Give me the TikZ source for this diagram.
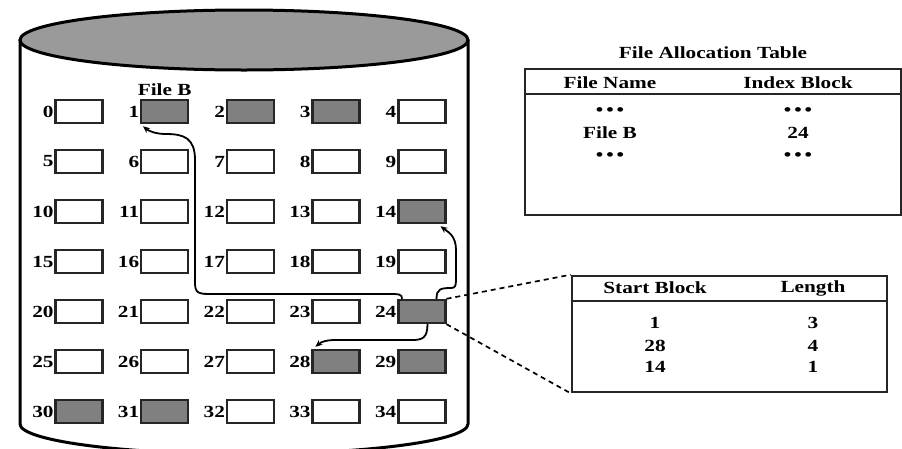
\documentclass[tikz,border=0pt]{standalone}
\usepackage{fontspec}
\setmainfont{Liberation Serif}[FakeStretch=1.25]
\usetikzlibrary{arrows.meta}
\definecolor{dk}{HTML}{808080}
\definecolor{topgray}{HTML}{9A9A9A}
\definecolor{edge}{HTML}{262626}
\begin{document}
\begin{tikzpicture}[x=1pt,y=-1pt,
  blk/.style={draw=edge,line width=2.4pt,minimum width=47pt,minimum height=23pt,inner sep=0pt},
  num/.style={font=\fontsize{17}{19}\selectfont\bfseries,inner sep=0.6pt},
  txt/.style={font=\fontsize{17}{19}\selectfont\bfseries,inner sep=0pt},
  dots/.style={font=\fontsize{17}{19}\selectfont\bfseries,inner sep=0pt},
  arr/.style={line width=1.8pt,-{Stealth[length=7pt,width=6pt]}},
  dsh/.style={line width=1.7pt,dash pattern=on 5pt off 4pt},
  tbl/.style={draw=edge,line width=2.6pt,inner sep=0pt}]
\useasboundingbox (0,0) rectangle (902,448);
% cylinder
\draw[line width=3pt,fill=white] (20,40) -- (20,424) arc[start angle=180,end angle=360,x radius=224pt,y radius=30pt] -- (468,40);
\draw[line width=3pt,fill=topgray] (244,40) ellipse [x radius=224pt,y radius=30pt];
% blocks
\foreach \i in {0,...,34}{
  \pgfmathtruncatemacro\r{int(\i/5)}
  \pgfmathtruncatemacro\c{mod(\i,5)}
  \gdef\fc{white}
  \foreach \d in {1,2,3,14,24,28,29,30,31}{\ifnum\d=\i\relax\gdef\fc{dk}\fi}
  \node[blk,fill=\fc] (b\i) at ({79+85.7*\c},{111.5+50*\r}) {};
  \node[num,anchor=east] (n\i) at (b\i.west) {\i};
}
\node[txt,anchor=south] (fb) at ([yshift=3pt]b1.north) {File B};
% arrows
\draw[arr] ([xshift=5pt]b24.north west) .. controls +(0,-5) and +(8,0) .. (390,294) -- (208,294)
  .. controls +(-13,0) and +(0,10) .. (195,280) -- (195,160)
  .. controls +(0,-22) and +(18,0) .. (166,134)
  .. controls +(-10,0) and +(6,5) .. ([xshift=3pt,yshift=-2pt]b1.south west);
\draw[arr] ([xshift=-10pt]b24.north east) .. controls +(0,-10) and +(-10,0) .. (451,288)
  .. controls +(4,0) and +(0,6) .. (456,280) -- (456,250)
  .. controls +(0,-14) and +(8,6) .. ([xshift=-6pt,yshift=-2pt]b14.south east);
\draw[arr] ([xshift=-19pt]b24.south east) .. controls +(0,14) and +(10,0) .. (412,340) -- (336,340)
  .. controls +(-10,0) and +(6,-5) .. ([xshift=4pt,yshift=2pt]b28.north west);
% file allocation table
\node[txt] (title) at (713,53) {File Allocation Table};
\node[tbl,minimum width=376pt,minimum height=146pt] (t1) at (713,142) {};
\draw[edge,line width=2.4pt] ([yshift=-26pt]t1.north west) -- ([yshift=-26pt]t1.north east);
\node[txt] (h1) at (610,83) {File Name};
\node[txt] (h2) at (798,83) {Index Block};
\node[dots] (d1) at (610,112) {\textbullet\hspace{3pt}\textbullet\hspace{3pt}\textbullet};
\node[dots] (d2) at (798,112) {\textbullet\hspace{3pt}\textbullet\hspace{3pt}\textbullet};
\node[txt] (fbn) at (610,133) {File B};
\node[txt] (ib) at (798,133) {24};
\node[dots] (d3) at (610,157) {\textbullet\hspace{3pt}\textbullet\hspace{3pt}\textbullet};
\node[dots] (d4) at (798,157) {\textbullet\hspace{3pt}\textbullet\hspace{3pt}\textbullet};
% index block table
\node[tbl,minimum width=315pt,minimum height=116pt] (t2) at (729.5,334) {};
\draw[edge,line width=2.4pt] ([yshift=-26pt]t2.north west) -- ([yshift=-26pt]t2.north east);
\node[txt] (sb) at (655,288) {Start Block};
\node[txt] (ln) at (813,288) {Length};
\node[txt] (r1a) at (655,323) {1};
\node[txt] (r1b) at (813,323) {3};
\node[txt] (r2a) at (655,346) {28};
\node[txt] (r2b) at (813,346) {4};
\node[txt] (r3a) at (655,367) {14};
\node[txt] (r3b) at (813,367) {1};
\draw[dsh] (b24.north east) -- (t2.north west);
\draw[dsh] (b24.south east) -- (t2.south west);
\end{tikzpicture}
\end{document}
